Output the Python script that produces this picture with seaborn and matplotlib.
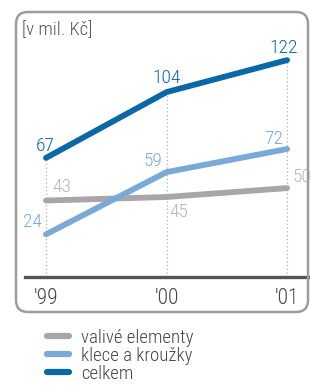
import matplotlib
matplotlib.use("Agg")
import matplotlib.pyplot as plt
import seaborn as sns
import pandas as pd
from matplotlib.patches import FancyBboxPatch
from matplotlib import font_manager

years = ["'99", "'00", "'01"]
valive = [43, 45, 50]
klece = [24, 59, 72]
celkem = [67, 104, 122]
series_names = ["valivé elementy", "klece a kroužky", "celkem"]
unit_label = "[v mil. Kč]"

sns.set_style("white")
fams = set(f.name for f in font_manager.fontManager.ttflist)
for cand in ["Roboto Condensed", "Liberation Sans Narrow", "Roboto"]:
    if cand in fams:
        fam = cand
        break
else:
    fam = "Liberation Sans"
plt.rcParams["font.family"] = [fam, "DejaVu Sans"]
plt.rcParams["font.weight"] = "light"

colors = {"valivé elementy": "#a7a7aa", "klece a kroužky": "#79a9d6", "celkem": "#0a68a6"}

rows = []
for name, vals in zip(series_names, [valive, klece, celkem]):
    for i, (y, v) in enumerate(zip(years, vals)):
        rows.append({"x": i, "year": y, "value": v, "series": name})
df = pd.DataFrame(rows)

W, H = 310, 387
fig = plt.figure(figsize=(W / 100, H / 100), dpi=100)

box = FancyBboxPatch((16, H - 312), 292, 300, boxstyle="round,pad=0,rounding_size=12",
                     transform=None, fill=False, edgecolor="#9d9d9d", linewidth=1.8, zorder=0)
fig.patches.append(box)

ax = fig.add_axes([25 / W, 1 - 277 / H, 285 / W, (277 - 37) / H])
ax.set_facecolor("none")
ax.set_xlim(-0.174, 2.19)
ax.set_ylim(0, 135)

maxv = [max(a, b, c) for a, b, c in zip(valive, klece, celkem)]
for i, m in enumerate(maxv):
    ax.plot([i, i], [0, m], color="#b0b0b0", linestyle=(0, (1, 2)), linewidth=0.9, zorder=1)

sns.lineplot(data=df, x="x", y="value", hue="series", hue_order=series_names,
             palette=colors, linewidth=4.2, ax=ax, legend=True, zorder=3,
             solid_capstyle="round")

for s in ["left", "right", "top"]:
    ax.spines[s].set_visible(False)
ax.spines["bottom"].set_color("#555555")
ax.spines["bottom"].set_linewidth(2.4)
ax.set_yticks([])
ax.set_xticks(range(len(years)))
ax.set_xticklabels(years, fontsize=15.5, color="#444444")
ax.tick_params(axis="x", length=0, pad=8)
ax.set_xlabel("")
ax.set_ylabel("")

fs = 14
offs_c = [(-1, 3, "center"), (0, 5, "center"), (-3, 3, "center")]
for i, v in enumerate(celkem):
    dx, dy, ha = offs_c[i]
    ax.annotate(str(v), (i, v), xytext=(dx, dy), textcoords="offset pixels",
                ha=ha, va="bottom", fontsize=fs, color=colors["celkem"])
offs_k = [(-4, 3, "right", "bottom"), (-4, 2, "right", "bottom"), (-4, 1, "right", "bottom")]
for i, v in enumerate(klece):
    dx, dy, ha, va = offs_k[i]
    ax.annotate(str(v), (i, v), xytext=(dx, dy), textcoords="offset pixels",
                ha=ha, va=va, fontsize=fs, color=colors["klece a kroužky"])
offs_v = [(6, 5, "left", "bottom"), (3, -6, "left", "top"), (5, 2, "left", "bottom")]
for i, v in enumerate(valive):
    dx, dy, ha, va = offs_v[i]
    ax.annotate(str(v), (i, v), xytext=(dx, dy), textcoords="offset pixels",
                ha=ha, va=va, fontsize=fs, color="#b5b5b8")

fig.text(22 / W, 1 - 30 / H, unit_label, fontsize=13.5, color="#555555", va="center", ha="left")

handles, labels = ax.get_legend_handles_labels()
ax.get_legend().remove()
for h in handles:
    h.set_linewidth(4.5)
    h.set_solid_capstyle("round")
leg = fig.legend(handles, labels, loc="upper left", bbox_to_anchor=(47 / W, 1 - 329 / H),
                 frameon=False, fontsize=13.5, handlelength=1.15, handletextpad=0.65,
                 labelspacing=0.0, borderaxespad=0, borderpad=0)
for t in leg.get_texts():
    t.set_color("#444444")

fig.savefig("out.png", dpi=100)
